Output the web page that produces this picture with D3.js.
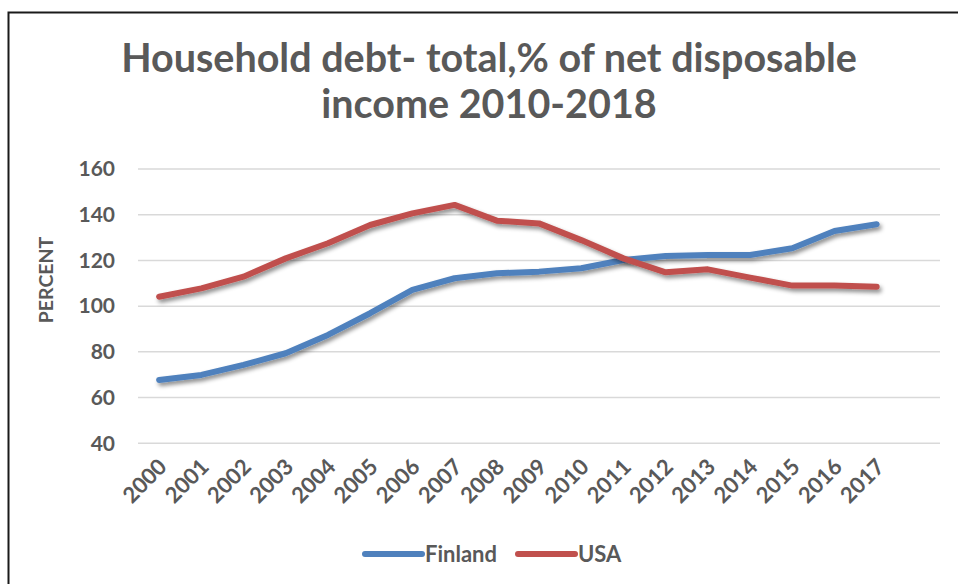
<!DOCTYPE html>
<html>
<head>
<meta charset="utf-8">
<script src="https://cdn.jsdelivr.net/npm/d3@7"></script>
<style>
  html, body { margin: 0; padding: 0; background: #fff; }
  svg { display: block; }
  text { font-family: Lato, "Open Sans", sans-serif; font-weight: bold; fill: #595959; }
</style>
</head>
<body>
<svg id="chart" width="958" height="584"></svg>
<script>
// Household debt, % of net disposable income
const years = ["2000","2001","2002","2003","2004","2005","2006","2007","2008",
               "2009","2010","2011","2012","2013","2014","2015","2016","2017"];
const finland = [67.7, 69.9, 74.3, 79.4, 87.4, 96.9, 107.1, 112.2, 114.4,
                 115.1, 116.6, 120.2, 121.9, 122.4, 122.4, 125.3, 132.9, 135.8];
const usa = [104.1, 107.8, 112.9, 120.9, 127.5, 135.5, 140.6, 144.3, 137.4,
             136.2, 128.9, 120.9, 114.8, 116.1, 112.5, 109.0, 109.0, 108.5];
const yTicks = [40, 60, 80, 100, 120, 140, 160];
const seriesNames = ["Finland", "USA"];
const seriesColors = ["#4f81bd", "#c0504d"];
const titleLines = ["Household debt- total,% of net disposable", "income 2010-2018"];
const yTitle = "PERCENT";

const svg = d3.select("#chart");

// outer frame
svg.append("rect")
  .attr("x", 8.5).attr("y", 12.5)
  .attr("width", 1000).attr("height", 700)
  .attr("fill", "none").attr("stroke", "#1a1a1a").attr("stroke-width", 2);

// shadow under the lines
const defs = svg.append("defs");
const f = defs.append("filter").attr("id", "shadow")
  .attr("x", "-5%").attr("y", "-20%").attr("width", "110%").attr("height", "140%");
f.append("feDropShadow")
  .attr("dx", 2).attr("dy", 3).attr("stdDeviation", 2)
  .attr("flood-color", "#000").attr("flood-opacity", 0.45);

const plot = { left: 138, right: 940, top: 169, bottom: 443.3 };
const step = (plot.right - plot.left) / (years.length + 1);

const x = d3.scaleBand()
  .domain(years)
  .range([plot.left, plot.left + step * years.length])
  .paddingInner(0).paddingOuter(0);

const y = d3.scaleLinear()
  .domain([40, 160])
  .range([plot.bottom, plot.top]);

// title
svg.append("g").selectAll("text")
  .data(titleLines).join("text")
  .attr("x", 489)
  .attr("y", (d, i) => 72 + i * 46)
  .attr("text-anchor", "middle")
  .style("font-size", "39.5px")
  .text(d => d);

// gridlines
svg.append("g").selectAll("line")
  .data(yTicks).join("line")
  .attr("x1", plot.left).attr("x2", plot.right)
  .attr("y1", d => y(d)).attr("y2", d => y(d))
  .attr("stroke", "#d9d9d9").attr("stroke-width", 1.5);

// y axis
const yAxis = svg.append("g")
  .attr("transform", `translate(${plot.left - 23},0)`)
  .call(d3.axisLeft(y).tickValues(yTicks).tickSize(0).tickPadding(0));
yAxis.select(".domain").remove();
yAxis.selectAll("text")
  .attr("fill", "#595959")
  .style("font-size", "21px")
  .style("font-family", "Lato, sans-serif")
  .style("font-weight", "bold");

// y title
svg.append("text")
  .attr("transform", "translate(46,280) rotate(-90)")
  .attr("text-anchor", "middle")
  .attr("dy", "0.35em")
  .style("font-size", "19.5px")
  .text(yTitle);

// x axis labels
const xAxis = svg.append("g")
  .attr("transform", `translate(0,${plot.bottom})`)
  .call(d3.axisBottom(x).tickSize(0).tickPadding(0));
xAxis.select(".domain").remove();
xAxis.selectAll("text")
  .attr("fill", "#595959")
  .style("font-size", "22px")
  .style("font-family", "Lato, sans-serif")
  .style("font-weight", "bold")
  .attr("text-anchor", "end")
  .attr("dy", null)
  .attr("y", 0)
  .attr("transform", "translate(9,25) rotate(-45)");

// series lines
const line = d3.line()
  .x((d, i) => x(years[i]) + x.bandwidth() / 2)
  .y(d => y(d));

const seriesData = [finland, usa];
svg.append("g").selectAll("path")
  .data(seriesData).join("path")
  .attr("d", d => line(d))
  .attr("fill", "none")
  .attr("stroke", (d, i) => seriesColors[i])
  .attr("stroke-width", 6)
  .attr("stroke-linejoin", "round")
  .attr("stroke-linecap", "round")
  .attr("filter", "url(#shadow)");

// legend
const legendX = [365, 518];
const lg = svg.append("g").selectAll("g")
  .data(seriesNames).join("g")
  .attr("transform", (d, i) => `translate(${legendX[i]},554)`);
lg.append("line")
  .attr("x1", 0).attr("x2", 57).attr("y1", 0).attr("y2", 0)
  .attr("stroke", (d, i) => seriesColors[i])
  .attr("stroke-width", 6)
  .attr("stroke-linecap", "round");
lg.append("text")
  .attr("x", 60)
  .attr("dy", "0.36em")
  .style("font-size", "22px")
  .text(d => d);
</script>
</body>
</html>
